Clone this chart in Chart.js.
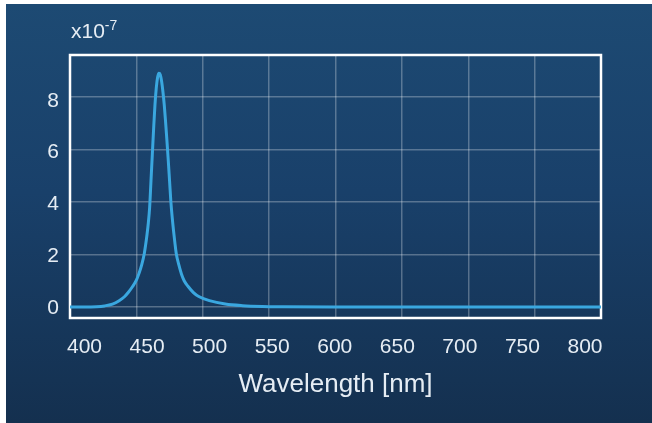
<!DOCTYPE html>
<html>
<head>
<meta charset="utf-8">
<script src="https://cdn.jsdelivr.net/npm/chart.js@4/dist/chart.umd.min.js"></script>
<style>
  html, body { margin: 0; padding: 0; background: #fff; }
  #wrap {
    position: absolute; left: 6px; top: 4px; width: 646px; height: 419px;
    background: linear-gradient(to bottom, #1d4a73 0%, #19406a 45%, #14304f 100%);
  }
  canvas { display: block; }
</style>
</head>
<body>
<div id="wrap"><canvas id="myChart" width="646" height="419"></canvas></div>
<script>
// spectrum (intensity in units of 1e-7)
const wavelengths = [400, 410, 420, 426, 432, 437, 441, 444, 447, 450, 452, 454, 456, 458, 459, 460, 461, 462, 463, 464, 465, 466, 467, 468, 469, 470, 471, 472, 473, 474, 475, 476, 477, 478, 479, 480, 482, 484, 486, 489, 493, 497, 505, 517, 530, 545, 560, 600, 700, 800];
const intensity = [0, 0, 0.01, 0.04, 0.11, 0.24, 0.39, 0.56, 0.77, 1.02, 1.28, 1.6, 2.05, 2.75, 3.2, 3.8, 4.8, 5.8, 6.8, 7.7, 8.35, 8.75, 8.9, 8.85, 8.6, 8.2, 7.7, 7.05, 6.35, 5.6, 4.8, 4.0, 3.4, 2.9, 2.45, 2.05, 1.6, 1.25, 1.0, 0.78, 0.55, 0.4, 0.24, 0.11, 0.05, 0.02, 0.01, 0, 0, 0];
const xTickLabels = [400, 450, 500, 550, 600, 650, 700, 750, 800];
const yTickLabels = [0, 2, 4, 6, 8];

const points = wavelengths.map((w, i) => ({ x: w, y: intensity[i] }));
const textColor = '#e6edf4';
const gridColor = 'rgba(255,255,255,0.28)';

// white frame round the plot + exponent label
const framePlugin = {
    id: 'frame',
    beforeDatasetsDraw(chart) {
        const a = chart.chartArea;
        const ctx = chart.ctx;
        ctx.save();
        ctx.strokeStyle = '#ffffff';
        ctx.lineWidth = 2.5;
        ctx.strokeRect(a.left, a.top, a.right - a.left, a.bottom - a.top);
        ctx.restore();
    },
    afterDraw(chart) {
        const ctx = chart.ctx;
        ctx.save();
        ctx.fillStyle = textColor;
        ctx.textBaseline = 'alphabetic';
        ctx.font = '21px "Liberation Sans", Arial, sans-serif';
        ctx.fillText('x10', 65, 34);
        const w = ctx.measureText('x10').width;
        ctx.font = '14px "Liberation Sans", Arial, sans-serif';
        ctx.fillText('-7', 65 + w, 26);
        ctx.restore();
    }
};

const ctx = document.getElementById('myChart').getContext('2d');
new Chart(ctx, {
    type: 'line',
    data: {
        datasets: [{
            data: points,
            borderColor: '#3aa7df',
            borderWidth: 3,
            pointRadius: 0,
            fill: false,
            cubicInterpolationMode: 'monotone'
        }]
    },
    options: {
        responsive: false,
        animation: false,
        layout: { padding: { left: 0, top: 51, right: 51, bottom: 0 } },
        plugins: { legend: { display: false }, tooltip: { enabled: false } },
        scales: {
            x: {
                type: 'linear', position: 'bottom', min: 400, max: 800,
                ticks: { display: false, stepSize: 50, includeBounds: false },
                grid: { color: gridColor, lineWidth: 1.5, drawTicks: false },
                border: { display: false },
                afterFit(s) { s.height = 0; }
            },
            xLabels: {
                type: 'linear', position: 'bottom', min: 388.4, max: 812.8,
                afterBuildTicks(s) { s.ticks = xTickLabels.map(v => ({ value: v })); },
                ticks: {
                    color: textColor, padding: 17, includeBounds: false, stepSize: 50,
                    font: { family: '"Liberation Sans", Arial, sans-serif', size: 21 }
                },
                grid: { display: false, drawTicks: false },
                border: { display: false },
                title: {
                    display: true, text: 'Wavelength [nm]', color: textColor,
                    padding: { top: 0, bottom: 23 },
                    font: { family: '"Liberation Sans", Arial, sans-serif', size: 26 }
                },
                afterFit(s) { s.height = 105; }
            },
            y: {
                type: 'linear', position: 'left', min: -0.42, max: 9.6,
                ticks: { display: false, stepSize: 2, includeBounds: false },
                grid: { color: gridColor, lineWidth: 1.5, drawTicks: false },
                border: { display: false },
                afterFit(s) { s.width = 0; }
            },
            yLabels: {
                type: 'linear', position: 'left', min: -0.386, max: 9.77,
                afterBuildTicks(s) { s.ticks = yTickLabels.map(v => ({ value: v })); },
                ticks: {
                    color: textColor, padding: 11, includeBounds: false, stepSize: 2,
                    font: { family: '"Liberation Sans", Arial, sans-serif', size: 21 }
                },
                grid: { display: false, drawTicks: false },
                border: { display: false },
                afterFit(s) { s.width = 64; }
            }
        }
    },
    plugins: [framePlugin]
});
</script>
</body>
</html>
